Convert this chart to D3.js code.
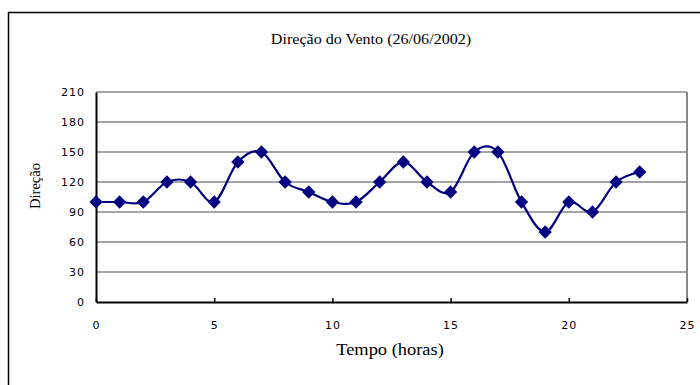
<!DOCTYPE html>
<html>
<head>
<meta charset="utf-8">
<script src="https://cdn.jsdelivr.net/npm/d3@7"></script>
<style>
  body { margin: 0; background: #fff; }
  svg { display: block; }
  .tick text { font-family: "DejaVu Sans", sans-serif; font-size: 11px; letter-spacing: 1px; fill: #000; }
  .title { font-family: "Liberation Serif", "Times New Roman", serif; fill: #000; }
</style>
</head>
<body>
<svg id="chart" width="700" height="385"></svg>
<script>
  // hours (x) and wind direction (y)
  const hours = [0, 1, 2, 3, 4, 5, 6, 7, 8, 9, 10, 11, 12, 13, 14, 15, 16, 17, 18, 19, 20, 21, 22, 23];
  const direcao = [100, 100, 100, 120, 120, 100, 140, 150, 120, 110, 100, 100, 120, 140, 120, 110, 150, 150, 100, 70, 100, 90, 120, 130];
  const xTicks = [0, 5, 10, 15, 20, 25];
  const yTicks = [0, 30, 60, 90, 120, 150, 180, 210];

  let svg = d3.select('#chart'),
    plotLeft = 96, plotRight = 687,
    plotTop = 92, plotBottom = 302,
    navy = '#000080';

  // outer chart frame (runs off the page on right and bottom)
  svg.append('rect')
    .attr('x', 8.5).attr('y', 12.5)
    .attr('width', 740).attr('height', 420)
    .attr('fill', 'none').attr('stroke', '#000').attr('stroke-width', 1.5);

  let scaleX = d3.scaleLinear().domain([0, 25]).range([plotLeft, plotRight]);
  let scaleY = d3.scaleLinear().domain([0, 210]).range([plotBottom, plotTop]);

  // gridlines
  svg.append('g')
    .selectAll('line')
    .data(yTicks.slice(1))
    .enter()
    .append('line')
    .attr('x1', plotLeft).attr('x2', plotRight)
    .attr('y1', d => scaleY(d)).attr('y2', d => scaleY(d))
    .attr('stroke', '#4a4a4a').attr('stroke-width', 1);

  // right border of plot
  svg.append('line')
    .attr('x1', plotRight).attr('x2', plotRight)
    .attr('y1', plotTop).attr('y2', plotBottom)
    .attr('stroke', '#888').attr('stroke-width', 2);

  // axes
  let axisY = d3.axisLeft(scaleY).tickValues(yTicks).tickSize(0).tickPadding(11);
  let gy = svg.append('g')
    .attr('transform', 'translate(' + plotLeft + ',0)')
    .call(axisY);
  gy.select('.domain').attr('stroke', '#000').attr('stroke-width', 2);

  let axisX = d3.axisBottom(scaleX).tickValues(xTicks).tickSize(-4).tickSizeOuter(0).tickPadding(19);
  let gx = svg.append('g')
    .attr('transform', 'translate(0,' + plotBottom + ')')
    .call(axisX);
  gx.select('.domain').attr('stroke', '#000').attr('stroke-width', 2);
  gx.selectAll('.tick line').attr('stroke', '#000').attr('stroke-width', 1.5);

  // smoothed line
  let pts = hours.map((h, i) => [h, direcao[i]]);
  let line = d3.line()
    .x(d => scaleX(d[0]))
    .y(d => scaleY(d[1]))
    .curve(d3.curveCardinal.tension(0));

  svg.append('path')
    .datum(pts)
    .attr('d', line)
    .attr('fill', 'none')
    .attr('stroke', navy)
    .attr('stroke-width', 2.2);

  // diamond markers
  let diamond = d3.symbol().type(d3.symbolSquare).size(88);
  svg.append('g')
    .selectAll('path')
    .data(pts)
    .enter()
    .append('path')
    .attr('d', diamond)
    .attr('transform', d => 'translate(' + scaleX(d[0]) + ',' + scaleY(d[1]) + ') rotate(45)')
    .attr('fill', navy);

  // titles (the source picture is stretched a bit horizontally)
  svg.append('text')
    .attr('class', 'title')
    .attr('transform', 'translate(371,44) scale(1.15,1)')
    .attr('text-anchor', 'middle')
    .attr('font-size', 14)
    .text('Direção do Vento (26/06/2002)');

  svg.append('text')
    .attr('class', 'title')
    .attr('transform', 'translate(390,355) scale(1.15,1)')
    .attr('text-anchor', 'middle')
    .attr('font-size', 16)
    .text('Tempo (horas)');

  svg.append('text')
    .attr('class', 'title')
    .attr('transform', 'translate(40,186) rotate(-90)')
    .attr('text-anchor', 'middle')
    .attr('font-size', 14.5)
    .text('Direção');
</script>
</body>
</html>
